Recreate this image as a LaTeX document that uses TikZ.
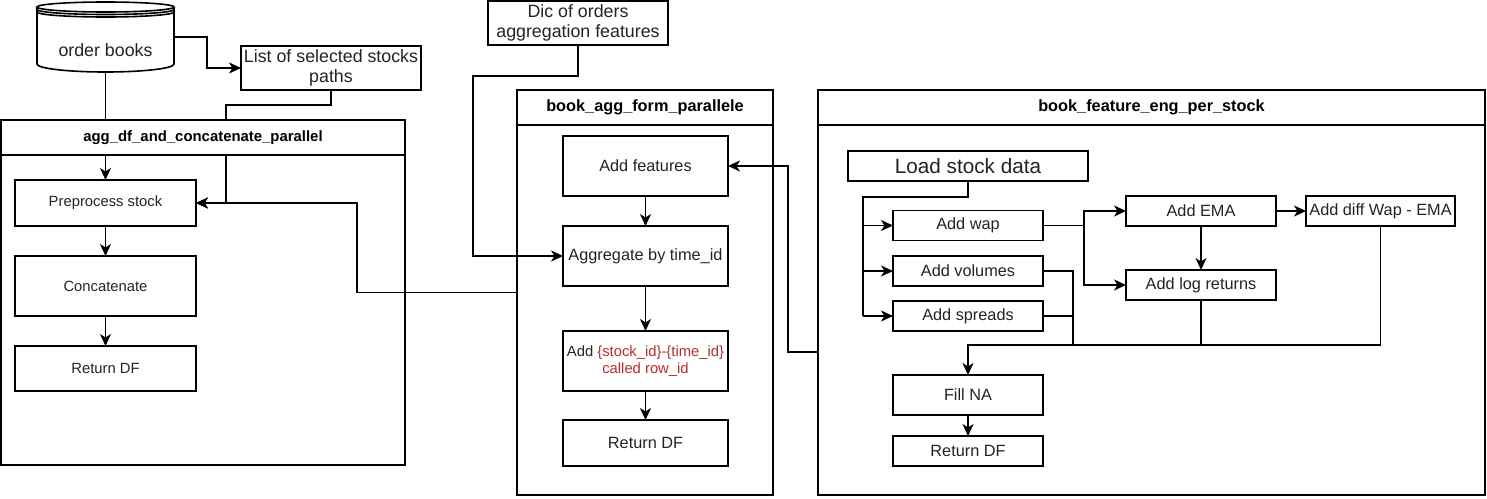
\documentclass[tikz,border=0pt]{standalone}
\usepackage{fontspec}
\setmainfont{Liberation Sans}
\usetikzlibrary{arrows.meta,calc}
\definecolor{redtxt}{RGB}{180,45,45}
\definecolor{txt}{RGB}{35,35,35}
\begin{document}
\begin{tikzpicture}[x=1pt,y=-1pt, line width=1.6pt,
  box/.style={draw, inner sep=0pt, outer sep=0pt, align=center, text=txt, font=\fontsize{16.3}{19.5}\selectfont},
  sbox/.style={box, font=\fontsize{14.8}{17.5}\selectfont},
  lbox/.style={box, font=\fontsize{17.8}{20.5}\selectfont},
  arr/.style={-{Stealth[length=12pt,width=11pt,inset=3.5pt]}},
  cont/.style={draw, inner sep=0pt, outer sep=0pt},
  hdr/.style={draw, fill=white},
  title/.style={inner sep=0pt, text=black, font=\bfseries\fontsize{16.3}{19.5}\selectfont}]
\useasboundingbox (0,0) rectangle (1487,498);

% ---- nodes ----
\node[inner sep=0pt, outer sep=0pt, minimum width=137pt, minimum height=70pt] (ob) at (105.5,37) {};
\node[lbox, minimum width=180pt, minimum height=44pt] (lst) at (331,68) {List of selected stocks\\paths};
\node[lbox, minimum width=180pt, minimum height=44pt] (dic) at (578,23) {Dic of orders\\aggregation features};

\node[cont, minimum width=404pt, minimum height=345pt] (c1) at (203,292.5) {};
\node[cont, minimum width=256pt, minimum height=405pt] (c2) at (645,292.5) {};
\node[cont, minimum width=667pt, minimum height=405pt] (c3) at (1151.5,292.5) {};

\node[sbox, minimum width=181pt, minimum height=46pt] (pre) at (105.5,203) {Preprocess stock};
\node[sbox, minimum width=181pt, minimum height=60pt] (conc) at (105.5,286) {Concatenate};
\node[sbox, minimum width=181pt, minimum height=45pt] (ret1) at (105.5,368.5) {Return DF};

\node[box, minimum width=165pt, minimum height=60pt] (feat) at (645.5,166) {Add features};
\node[box, minimum width=165pt, minimum height=60pt] (agg) at (645.5,256) {Aggregate by time\_id};
\node[sbox, minimum width=165pt, minimum height=60pt] (rowid) at (645.5,361) {Add \textcolor{redtxt}{\{stock\_id\}-\{time\_id\}}\\\textcolor{redtxt}{called row\_id}};
\node[box, minimum width=165pt, minimum height=46pt] (ret2) at (645.5,443) {Return DF};

\node[box, minimum width=240pt, minimum height=30pt, font=\fontsize{20.7}{24}\selectfont] (load) at (968,166) {Load stock data};
\node[box, minimum width=150pt, minimum height=30pt] (wap) at (968,225.5) {Add wap};
\node[box, minimum width=150pt, minimum height=30pt] (vol) at (968,271) {Add volumes};
\node[box, minimum width=150pt, minimum height=30pt] (spr) at (968,316) {Add spreads};
\node[box, minimum width=150pt, minimum height=30pt] (ema) at (1201,211) {Add EMA};
\node[box, minimum width=150pt, minimum height=30pt] (logr) at (1201,285) {Add log returns};
\node[box, minimum width=149pt, minimum height=30pt] (diff) at (1380.5,211) {Add diff Wap - EMA};
\node[box, minimum width=150pt, minimum height=40pt] (fill) at (968,395) {Fill NA};
\node[box, minimum width=150pt, minimum height=30pt] (ret3) at (968,451) {Return DF};

\coordinate (y352) at (0,352);
\coordinate (bus) at (863,0);
\coordinate (split) at (1084,225.5);
\coordinate (merge) at (1073,345);

% ---- connectors ----
\draw[arr] (ob.east) -- (207,37) |- (lst.west);
\draw[arr] (ob.south) -- (pre.north);
\draw[arr] (lst.south) -- ++(0,15) -| (226,203) -- (pre.east);
\draw[arr] (c2.west) -- (357,292.5) |- (pre.east);
\draw[arr] (pre.south) -- (conc.north);
\draw[arr] (conc.south) -- (ret1.north);

\draw[arr] (dic.south) -- ++(0,31) -| (473,256) -- (agg.west);
\draw[arr] (c3.west |- y352) -- (788,352) |- (feat.east);
\draw[arr] (feat.south) -- (agg.north);
\draw[arr] (agg.south) -- (rowid.north);
\draw[arr] (rowid.south) -- (ret2.north);

\draw (load.south) -- ++(0,16) -| (bus |- spr.west);
\draw[arr] (bus |- wap.west) -- (wap.west);
\draw[arr] (bus |- vol.west) -- (vol.west);
\draw[arr] (bus |- spr.west) -- (spr.west);
\draw (wap.east) -- (split);
\draw[arr] (split) |- (ema.west);
\draw[arr] (split) |- (logr.west);
\draw[arr] (ema.east) -- (diff.west);
\draw[arr] (ema.south) -- (logr.north);
\draw (vol.east) -| (merge);
\draw (spr.east) -- (spr.east -| merge);
\draw (logr.south) -- (logr.south |- merge);
\draw[arr] (diff.south) |- (merge) -| (fill.north);
\draw[arr] (fill.south) -- (ret3.north);

% ---- container headers ----
\draw[hdr] (c1.north west) rectangle ($(c1.north east)+(0,35)$);
\node[title, font=\bfseries\fontsize{14.9}{18}\selectfont] (t1) at ($(c1.north)+(0,17.5)$) {agg\_df\_and\_concatenate\_parallel};
\draw[hdr] (c2.north west) rectangle ($(c2.north east)+(0,35)$);
\node[title] (t2) at ($(c2.north)+(0,17.5)$) {book\_agg\_form\_parallele};
\draw[hdr] (c3.north west) rectangle ($(c3.north east)+(0,35)$);
\node[title] (t3) at ($(c3.north)+(0,17.5)$) {book\_feature\_eng\_per\_stock};

% ---- data store (order books) ----
\draw[fill=white] (37,7) -- (37,64) arc[start angle=180,end angle=0,x radius=68.5,y radius=8] -- (174,7);
\draw[fill=white] (105.5,7) ellipse[x radius=68.5, y radius=5];
\draw (37,9.5) arc[start angle=180,end angle=0,x radius=68.5,y radius=5];
\draw (37,12) arc[start angle=180,end angle=0,x radius=68.5,y radius=5];
\node[text=txt, font=\fontsize{17.8}{20.5}\selectfont] (obt) at (105.5,50) {order books};
\end{tikzpicture}
\end{document}
